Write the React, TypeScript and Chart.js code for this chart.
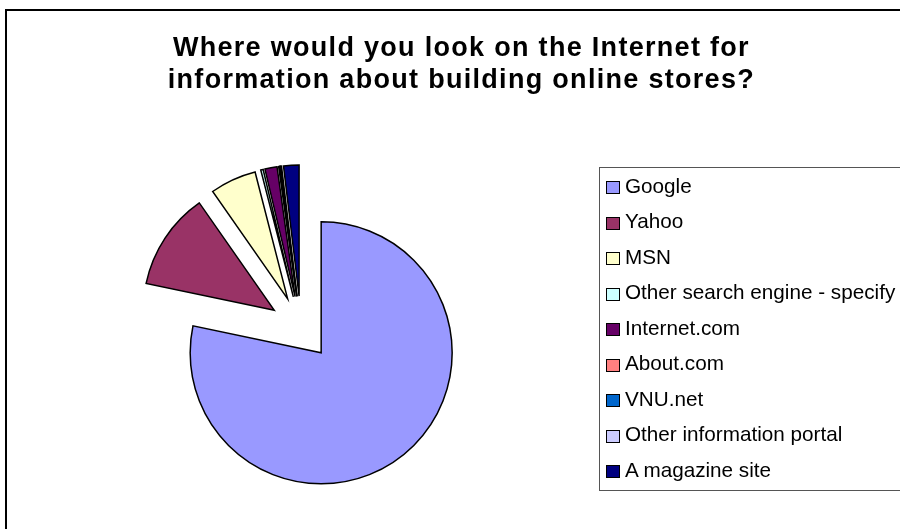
import React, { useEffect, useRef } from 'react';
import { Chart, registerables, ArcElement, PieController } from 'chart.js';

// Exploded pie slice: the library computes angles and radius, each slice is pushed out along its mid-angle.
class ExplodedArc extends ArcElement {
  static id = 'explodedArc';
  draw(ctx: CanvasRenderingContext2D) {
    const self: any = this;
    const { x, y, startAngle, endAngle, outerRadius, options } = self;
    if (!(endAngle > startAngle) || !(outerRadius > 0)) return;
    const mid = (startAngle + endAngle) / 2;
    const shift = options.offset || 0;
    const cx = x + Math.cos(mid) * shift;
    const cy = y + Math.sin(mid) * shift;
    ctx.save();
    ctx.beginPath();
    ctx.moveTo(cx, cy);
    ctx.arc(cx, cy, outerRadius, startAngle, endAngle);
    ctx.closePath();
    ctx.fillStyle = options.backgroundColor;
    ctx.fill();
    if (options.borderWidth) {
      ctx.lineWidth = options.borderWidth;
      ctx.strokeStyle = options.borderColor;
      ctx.lineJoin = 'miter';
      ctx.stroke();
    }
    ctx.restore();
  }
}

class ExplodedPieController extends PieController {
  static id = 'explodedPie';
  static defaults = { ...(PieController as any).defaults, dataElementType: 'explodedArc' };
}

Chart.register(...registerables, ExplodedArc as any, ExplodedPieController as any);

const TITLE_LINES = [
  'Where would you look on the Internet for',
  'information about building online stores?',
];

const CATEGORIES = [
  'Google',
  'Yahoo',
  'MSN',
  'Other search engine - specify',
  'Internet.com',
  'About.com',
  'VNU.net',
  'Other information portal',
  'A magazine site',
];

const SHARES = [78.3, 12.0, 5.7, 0.3, 1.5, 0.1, 0.1, 0.1, 1.9];

const COLORS = [
  '#9999FF',
  '#993366',
  '#FFFFCC',
  '#CCFFFF',
  '#660066',
  '#FF8080',
  '#0066CC',
  '#CCCCFF',
  '#000080',
];

const RADIUS = 131;
const EXPLODE = 32;

const LEGEND_FIRST_BASELINE = 192.7;
const LEGEND_STEP = 35.5;

export default function App() {
  const canvasRef = useRef<HTMLCanvasElement | null>(null);

  useEffect(() => {
    const canvas = canvasRef.current;
    if (!canvas) return;
    const chart = new Chart(canvas, {
      type: 'explodedPie' as any,
      data: {
        labels: CATEGORIES,
        datasets: [
          {
            data: SHARES,
            backgroundColor: COLORS,
            borderColor: '#000000',
            borderWidth: 1.5,
            offset: EXPLODE,
            radius: RADIUS,
            clip: false,
          } as any,
        ],
      },
      options: {
        responsive: false,
        animation: false,
        devicePixelRatio: 1,
        layout: { padding: { left: 0, right: 298, top: 127, bottom: 0 } },
        plugins: {
          legend: { display: false },
          title: { display: false },
          tooltip: { enabled: false },
        },
      } as any,
    });
    return () => chart.destroy();
  }, []);

  const font = '"Liberation Sans", Arial, Helvetica, sans-serif';

  return (
    <div
      style={{
        position: 'fixed',
        left: 0,
        top: 0,
        width: 900,
        height: 529,
        overflow: 'hidden',
        background: '#ffffff',
      }}
    >
      <div
        style={{
          position: 'absolute',
          left: 5,
          top: 9,
          width: 1000,
          height: 700,
          border: '2px solid #000',
          boxSizing: 'border-box',
        }}
      />
      <canvas
        ref={canvasRef}
        width={900}
        height={529}
        style={{ position: 'absolute', left: 0, top: 0 }}
      />
      {TITLE_LINES.map((line, i) => (
        <div
          key={i}
          style={{
            position: 'absolute',
            left: -0.6,
            top: 31.3 + i * 32,
            width: 924,
            textAlign: 'center',
            font: `bold 27px/32px ${font}`,
            letterSpacing: '1.3px',
            color: '#000',
            whiteSpace: 'nowrap',
          }}
        >
          {line}
        </div>
      ))}
      <div
        style={{
          position: 'absolute',
          left: 599,
          top: 167,
          width: 500,
          height: 324,
          border: '1px solid #555',
          boxSizing: 'border-box',
        }}
      />
      {CATEGORIES.map((name, i) => {
        const b = LEGEND_FIRST_BASELINE + i * LEGEND_STEP;
        return (
          <React.Fragment key={name}>
            <div
              style={{
                position: 'absolute',
                left: 606,
                top: b - 11.5,
                width: 14,
                height: 13,
                background: COLORS[i],
                border: '1.5px solid #000',
                boxSizing: 'border-box',
              }}
            />
            <div
              style={{
                position: 'absolute',
                left: 625,
                top: b - 19.2,
                font: `20.7px/24px ${font}`,
                color: '#000',
                whiteSpace: 'nowrap',
              }}
            >
              {name}
            </div>
          </React.Fragment>
        );
      })}
    </div>
  );
}
